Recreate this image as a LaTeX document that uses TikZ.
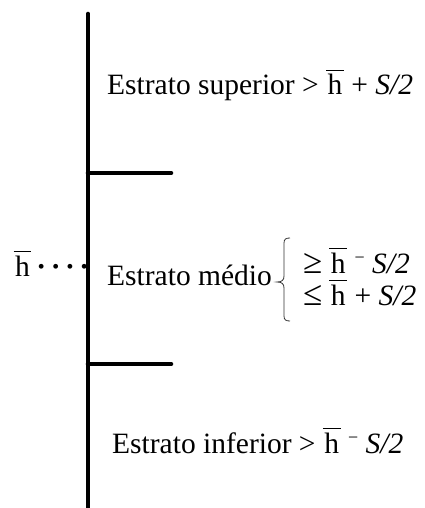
\documentclass[tikz,border=0pt]{standalone}
\usepackage{fontspec}
\setmainfont{Liberation Serif}
\newcommand{\hb}{\leavevmode\vbox{\hrule height 1.4pt\kern 3.2pt\hbox{\kern1.5pt h\kern1.5pt}}}
\newcommand{\mn}{\raisebox{10pt}{\fontsize{18}{18}\selectfont −}}
\newcommand{\rel}[1]{{\fontsize{35}{35}\selectfont #1}}
\begin{document}
\begin{tikzpicture}[x=1pt,y=-1pt,
  bar/.style={line width=4.6pt, line cap=round},
  lbl/.style={font=\fontsize{29.5}{32}\selectfont, inner sep=0pt, anchor=base west}]
\useasboundingbox (0,0) rectangle (425,508);
\coordinate (top) at (88,14);
\coordinate (bot) at (88,512);
\coordinate (d1) at (88,173);
\coordinate (e1) at (171,173);
\coordinate (d2) at (88,364);
\coordinate (e2) at (171,364);
\draw[bar] (top) -- (bot);
\draw[bar] (d1) -- (e1);
\draw[bar] (d2) -- (e2);
\node[lbl] (sup) at (107,95) {Estrato superior > \hb{} + \textit{S/2}};
\node[lbl] (hbar) at (13.5,276) {\hb{}\kern5pt\textbf{·}\kern4.5pt\textbf{·}\kern4.5pt\textbf{·}\kern4.5pt\textbf{·}};
\node[lbl] (med) at (107,285) {Estrato médio};
\draw[line width=0.8pt, black!80] (290,238) .. controls (286,238) and (284,239) .. (284,243) -- (284,276)
  .. controls (284,280) and (282,282) .. (277,282)
  .. controls (282,282) and (284,284) .. (284,288) -- (284,316)
  .. controls (284,320) and (286,321) .. (290,321);
\node[lbl] (ge) at (303,273) {\rel{≥}\hspace{7pt}\hb{} \mn{} \textit{S/2}};
\node[lbl] (le) at (303,305) {\rel{≤}\hspace{7pt}\hb{} + \textit{S/2}};
\node[lbl] (inf) at (112,453) {Estrato inferior > \hb{} \mn{} \textit{S/2}};
\end{tikzpicture}
\end{document}
